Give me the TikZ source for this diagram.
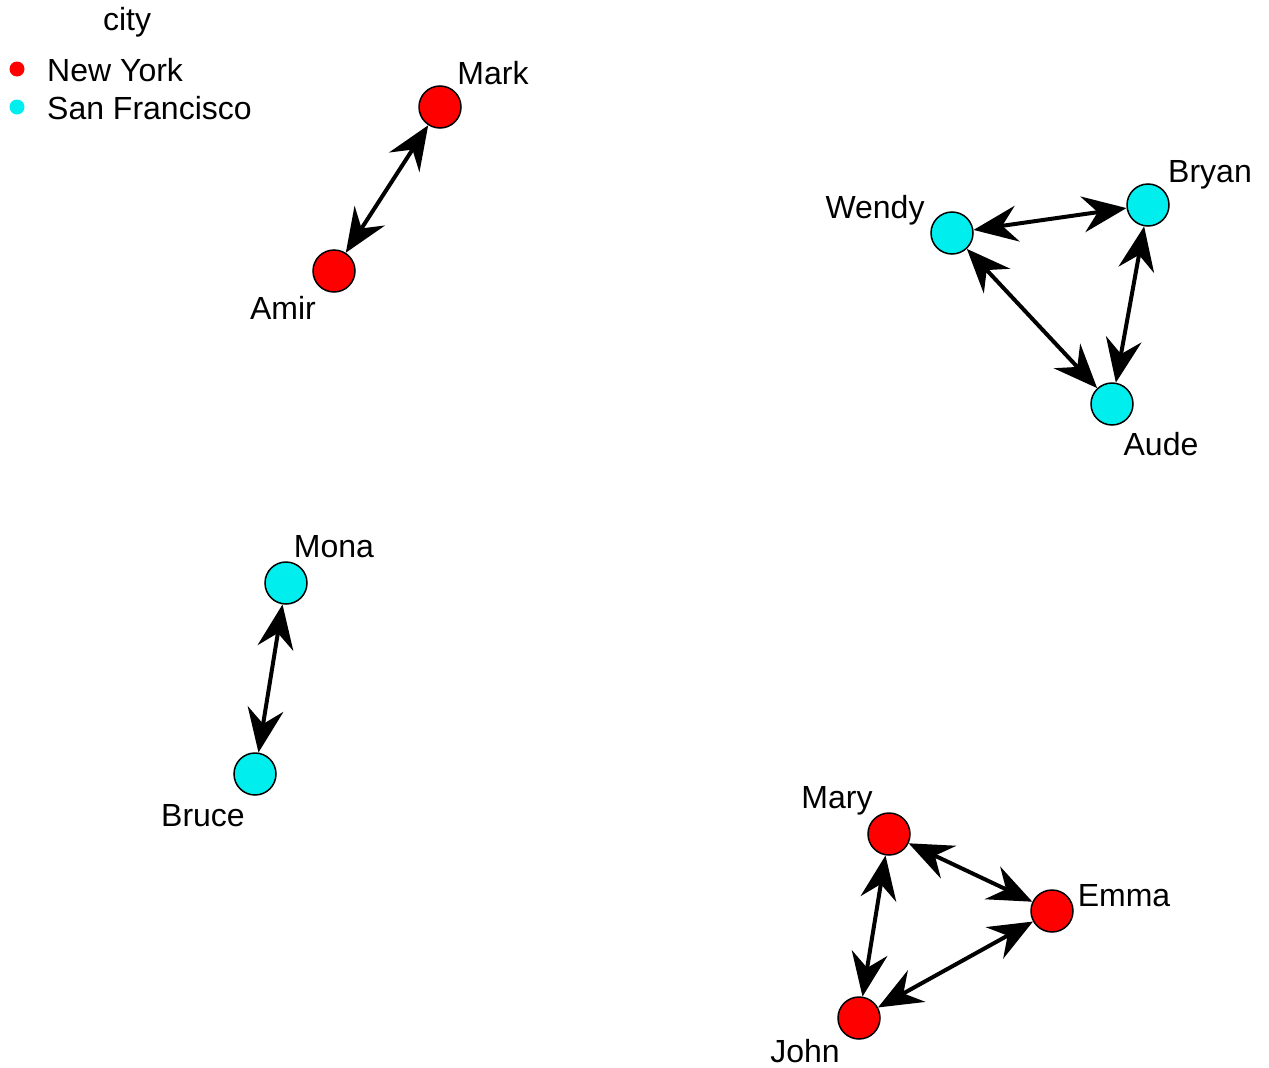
\documentclass[tikz,border=0pt]{standalone}
\usepackage{fontspec}
\setmainfont{Liberation Sans}
\usetikzlibrary{arrows.meta}
\definecolor{nyred}{RGB}{255,0,0}
\definecolor{sfcyan}{RGB}{0,238,238}
\begin{document}
\begin{tikzpicture}[x=1pt,y=-1pt,
  vert/.style={circle,draw=black,line width=1.5pt,minimum size=42pt,inner sep=0pt},
  ny/.style={vert,fill=nyred},
  sf/.style={vert,fill=sfcyan},
  lab/.style={font=\fontsize{32}{36}\selectfont,inner sep=0pt,anchor=base},
  edge/.style={line width=4pt,{Stealth[length=44pt,width=36pt,inset=15pt]}-{Stealth[length=44pt,width=36pt,inset=15pt]}}
]
\useasboundingbox (0,0) rectangle (1269,1068);
% legend
\node[lab] (ttl) at (127,30) {city};
\node[circle,fill=nyred,minimum size=15pt,inner sep=0pt] (d1) at (17,69) {};
\node[circle,fill=sfcyan,minimum size=15pt,inner sep=0pt] (d2) at (17,107) {};
\node[lab,anchor=base west] (l1) at (47,81) {New York};
\node[lab,anchor=base west] (l2) at (47,119) {San Francisco};
% vertices
\node[ny] (mark) at (440,107) {};
\node[ny] (amir) at (334,271) {};
\node[sf] (wendy) at (952,233) {};
\node[sf] (bryan) at (1148,205) {};
\node[sf] (aude) at (1112,404) {};
\node[sf] (mona) at (286,583) {};
\node[sf] (bruce) at (255,774) {};
\node[ny] (mary) at (889,834) {};
\node[ny] (emma) at (1052,911) {};
\node[ny] (john) at (859,1018) {};
% labels
\node[lab] (tmark) at (493,84) {Mark};
\node[lab] (tamir) at (283,319) {Amir};
\node[lab] (twendy) at (875,218) {Wendy};
\node[lab] (tbryan) at (1210,182) {Bryan};
\node[lab] (taude) at (1161,455) {Aude};
\node[lab] (tmona) at (334,557) {Mona};
\node[lab] (tbruce) at (203,826) {Bruce};
\node[lab] (tmary) at (837,808) {Mary};
\node[lab] (temma) at (1124,906) {Emma};
\node[lab] (tjohn) at (805,1062) {John};
% edges
\draw[edge] (mark) -- (amir);
\draw[edge] (wendy) -- (bryan);
\draw[edge] (wendy) -- (aude);
\draw[edge] (bryan) -- (aude);
\draw[edge] (mona) -- (bruce);
\draw[edge] (mary) -- (emma);
\draw[edge] (mary) -- (john);
\draw[edge] (emma) -- (john);
\end{tikzpicture}
\end{document}
